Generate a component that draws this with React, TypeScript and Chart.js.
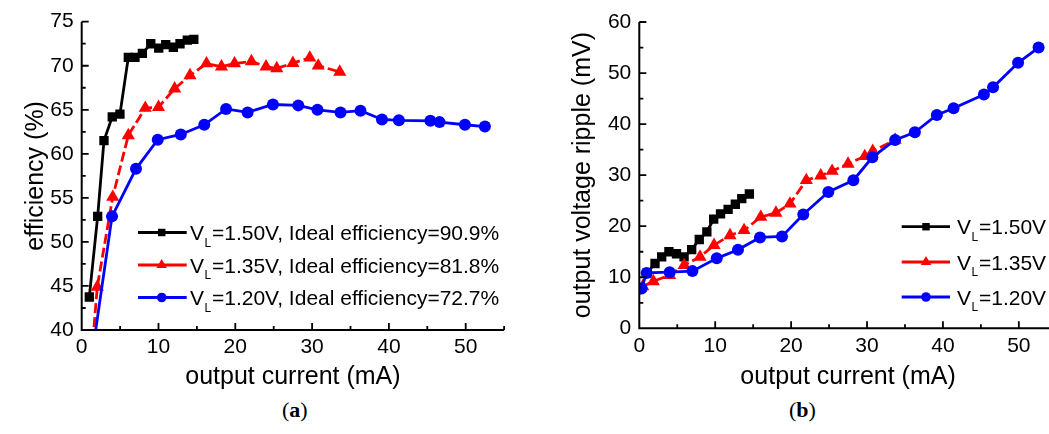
import React, { useEffect, useRef } from "react";
import { Chart, registerables } from "chart.js";

Chart.register(...registerables);

// ---------- (a) efficiency vs output current ----------
const effX150 = [0.99, 2.08, 2.9, 3.98, 4.98, 6.07, 6.94, 7.9, 8.99, 10.03, 10.94, 11.93, 12.8, 13.75, 14.6];
const effY150 = [43.75, 52.9, 61.5, 64.2, 64.5, 70.95, 70.95, 71.4, 72.5, 72.0, 72.4, 72.1, 72.5, 72.9, 73.0];
const effX135 = [1.0, 2.03, 4.04, 6.07, 8.28, 10.0, 12.1, 14.1, 16.25, 18.2, 19.9, 22.1, 24.0, 25.4, 27.5, 29.7, 30.8, 33.6];
const effY135 = [34, 44.9, 55.1, 62.1, 65.2, 65.3, 67.4, 68.9, 70.25, 69.9, 70.25, 70.5, 69.9, 69.7, 70.3, 70.9, 70.0, 69.3];
const effX120 = [1.0, 3.95, 7.07, 9.9, 12.9, 15.96, 18.8, 21.6, 24.9, 28.2, 30.7, 33.7, 36.3, 39.1, 41.3, 45.4, 46.6, 49.9, 52.5];
const effY120 = [35, 52.9, 58.3, 61.6, 62.2, 63.3, 65.1, 64.7, 65.6, 65.5, 65.0, 64.7, 64.9, 63.9, 63.8, 63.75, 63.6, 63.3, 63.1];

// ---------- (b) output voltage ripple vs output current ----------
const ripX150 = [1.0, 2.07, 2.95, 3.9, 4.9, 5.9, 6.9, 7.9, 8.9, 9.8, 10.7, 11.7, 12.65, 13.5, 14.5];
const ripY150 = [10.8, 12.7, 14.0, 15.0, 14.6, 14.0, 15.4, 17.4, 18.9, 21.4, 22.4, 23.3, 24.3, 25.4, 26.3];
const ripX135 = [0.45, 1.85, 4.0, 5.9, 8.0, 9.85, 11.95, 13.8, 16.0, 18.0, 19.85, 22.0, 23.9, 25.4, 27.5, 29.7, 30.75, 33.7];
const ripY135 = [8.2, 9.2, 10.4, 12.35, 14.0, 16.3, 18.2, 19.2, 21.8, 22.6, 24.4, 29.0, 29.9, 30.8, 32.2, 33.7, 34.7, 36.9];
const ripX120 = [0.3, 0.97, 4.0, 7.0, 10.2, 13.0, 15.9, 18.8, 21.6, 24.9, 28.2, 30.7, 33.7, 36.3, 39.2, 41.4, 45.4, 46.6, 49.9, 52.6];
const ripY120 = [7.8, 10.85, 11.0, 11.2, 13.7, 15.4, 17.8, 18.0, 22.3, 26.7, 29.0, 33.5, 36.9, 38.4, 41.8, 43.1, 45.8, 47.2, 52.0, 55.0];

// ---------- ticks and labels ----------
const xTicks = [0, 10, 20, 30, 40, 50];
const effTicks = [40, 45, 50, 55, 60, 65, 70, 75];
const ripTicks = [0, 10, 20, 30, 40, 50, 60];
const legendA = [
  ["1.50V", ", Ideal efficiency=90.9%"],
  ["1.35V", ", Ideal efficiency=81.8%"],
  ["1.20V", ", Ideal efficiency=72.7%"],
];
const legendB = [["1.50V", ""], ["1.35V", ""], ["1.20V", ""]];
const xTitle = "output current (mA)";
const effTitle = "efficiency (%)";
const ripTitle = "output voltage ripple (mV)";

const FONT = "'Liberation Sans', Arial, sans-serif";
const SERIES = [
  { color: "#000000", style: "rect", radius: 6.6, dash: [] as number[] },
  { color: "#ff0000", style: "triangle", radius: 7.6, dash: [10, 4] },
  { color: "#0000ff", style: "circle", radius: 6, dash: [] as number[] },
];

const axesPlugin = {
  id: "originAxes",
  afterDraw(chart: any, _args: any, opts: any) {
    const { ctx, chartArea: a, scales } = chart;
    const x = scales.x;
    const y = scales.y;
    ctx.save();
    ctx.strokeStyle = "#000";
    ctx.lineWidth = 2;
    ctx.beginPath();
    ctx.moveTo(a.left, a.top);
    ctx.lineTo(a.left, a.bottom);
    ctx.lineTo(a.right, a.bottom);
    ctx.stroke();
    ctx.lineWidth = 1.8;
    ctx.beginPath();
    const major = 7;
    const minor = 4;
    for (let v = x.min; v <= x.max + 1e-9; v += opts.xMinor) {
      const px = x.getPixelForValue(v);
      const isMajor = Math.abs(v / opts.xMajor - Math.round(v / opts.xMajor)) < 1e-6;
      if (v === x.min) continue;
      ctx.moveTo(px, a.bottom);
      ctx.lineTo(px, a.bottom - (isMajor ? major : minor));
    }
    for (let v = y.min; v <= y.max + 1e-9; v += opts.yMinor) {
      const py = y.getPixelForValue(v);
      const isMajor = Math.abs((v - y.min) / opts.yMajor - Math.round((v - y.min) / opts.yMajor)) < 1e-6;
      if (v === y.min) continue;
      ctx.moveTo(a.left, py);
      ctx.lineTo(a.left + (isMajor ? major : minor), py);
    }
    ctx.stroke();
    ctx.restore();
  },
};

function drawMarker(ctx: CanvasRenderingContext2D, style: string, cx: number, cy: number, r: number, color: string) {
  ctx.fillStyle = color;
  ctx.beginPath();
  if (style === "rect") {
    const s = Math.SQRT1_2 * r;
    ctx.rect(cx - s, cy - s, 2 * s, 2 * s);
  } else if (style === "triangle") {
    ctx.moveTo(cx, cy - r);
    ctx.lineTo(cx + 0.866 * r, cy + 0.5 * r);
    ctx.lineTo(cx - 0.866 * r, cy + 0.5 * r);
    ctx.closePath();
  } else {
    ctx.arc(cx, cy, r, 0, Math.PI * 2);
  }
  ctx.fill();
}

const legendPlugin = {
  id: "originLegend",
  afterDraw(chart: any, _args: any, opts: any) {
    const ctx = chart.ctx as CanvasRenderingContext2D;
    ctx.save();
    opts.items.forEach((item: string[], i: number) => {
      const s = SERIES[i];
      const ry = opts.rows[i];
      ctx.strokeStyle = s.color;
      ctx.lineWidth = 2.8;
      ctx.beginPath();
      ctx.moveTo(opts.x0, ry);
      ctx.lineTo(opts.x1, ry);
      ctx.stroke();
      drawMarker(ctx, s.style, opts.mx, ry, s.radius * 0.8, s.color);
      ctx.fillStyle = "#000";
      ctx.textBaseline = "alphabetic";
      ctx.textAlign = "left";
      const base = ry + 7.5;
      ctx.font = `21px ${FONT}`;
      ctx.fillText("V", opts.tx, base);
      let cx = opts.tx + ctx.measureText("V").width + 0.5;
      ctx.font = `12px ${FONT}`;
      ctx.fillText("L", cx, base + 6.5);
      cx += ctx.measureText("L").width + 0.8;
      ctx.font = `21px ${FONT}`;
      ctx.fillText("=" + item[0] + item[1], cx, base);
    });
    ctx.restore();
  },
};

function makeDatasets(xs: number[][], ys: number[][]) {
  const labels = ["VL=1.50V", "VL=1.35V", "VL=1.20V"];
  return xs.map((xa, i) => ({
    label: labels[i],
    data: xa.map((xv, j) => ({ x: xv, y: ys[i][j] })),
    showLine: true,
    borderColor: SERIES[i].color,
    backgroundColor: SERIES[i].color,
    borderWidth: 2.8,
    borderDash: SERIES[i].dash,
    pointStyle: SERIES[i].style,
    pointRadius: SERIES[i].radius,
    pointBorderWidth: 0,
    pointBackgroundColor: SERIES[i].color,
    tension: 0,
    order: 2 - i,
  }));
}

function buildConfig(p: any) {
  return {
    type: "scatter",
    data: { datasets: makeDatasets(p.xs, p.ys) },
    plugins: [axesPlugin, legendPlugin],
    options: {
      animation: false,
      responsive: false,
      devicePixelRatio: 1,
      layout: { padding: { left: 0, top: p.padTop, right: p.padRight, bottom: 0 } },
      plugins: {
        legend: { display: false },
        tooltip: { enabled: false },
        originAxes: { xMajor: 10, xMinor: 5, yMajor: p.yMajor, yMinor: p.yMajor / 2 },
        originLegend: p.legend,
      },
      scales: {
        x: {
          type: "linear",
          min: 0,
          max: 55,
          grid: { display: false, drawTicks: false },
          border: { display: false },
          ticks: { color: "#000", font: { family: FONT, size: 21 }, padding: 5, autoSkip: false, maxRotation: 0 },
          afterBuildTicks: (s: any) => {
            s.ticks = xTicks.map((v) => ({ value: v }));
          },
          afterFit: (s: any) => {
            s.height = p.xHeight;
          },
          title: { display: true, text: xTitle, color: "#000", font: { family: FONT, size: 25 }, padding: { top: 0, bottom: 0 } },
        },
        y: {
          type: "linear",
          min: p.yTicks[0],
          max: p.yTicks[p.yTicks.length - 1],
          grid: { display: false, drawTicks: false },
          border: { display: false },
          ticks: { color: "#000", font: { family: FONT, size: 21 }, padding: 8, autoSkip: false },
          afterBuildTicks: (s: any) => {
            s.ticks = p.yTicks.map((v: number) => ({ value: v }));
          },
          afterFit: (s: any) => {
            s.width = p.yWidth;
          },
          title: { display: true, text: p.yTitle, color: "#000", font: { family: FONT, size: 25 }, padding: { top: p.yTitlePad, bottom: 0 } },
        },
      },
    },
  };
}

function ChartBox(props: { left: number; width: number; height: number; cfg: any }) {
  const ref = useRef<HTMLCanvasElement | null>(null);
  useEffect(() => {
    if (!ref.current) return;
    const chart = new Chart(ref.current, props.cfg);
    return () => chart.destroy();
  }, []);
  return (
    <canvas
      ref={ref}
      width={props.width}
      height={props.height}
      style={{ position: "absolute", left: props.left, top: 0, width: props.width, height: props.height }}
    />
  );
}

const cfgA = buildConfig({
  xs: [effX150, effX135, effX120],
  ys: [effY150, effY135, effY120],
  yTicks: effTicks,
  yMajor: 5,
  yTitle: effTitle,
  padTop: 21.7,
  padRight: 15.9,
  xHeight: 62,
  yWidth: 81.7,
  yTitlePad: 21,
  legend: { items: legendA, x0: 138, x1: 186.7, mx: 161.7, tx: 190, rows: [232.5, 265, 297.5] },
});

const cfgB = buildConfig({
  xs: [ripX150, ripX135, ripX120],
  ys: [ripY150, ripY135, ripY120],
  yTicks: ripTicks,
  yMajor: 10,
  yTitle: ripTitle,
  padTop: 22,
  padRight: 8.2,
  xHeight: 63.7,
  yWidth: 114.3,
  yTitlePad: 43.6,
  legend: { items: legendB, x0: 376.7, x1: 425, mx: 401, tx: 432, rows: [226.7, 262, 297] },
});

export default function App() {
  return (
    <div style={{ position: "absolute", left: 0, top: 0, width: 1049, height: 434, overflow: "hidden", background: "#fff" }}>
      <ChartBox left={0} width={520} height={392} cfg={cfgA} />
      <ChartBox left={525} width={540} height={392} cfg={cfgB} />
      <div style={{ position: "absolute", left: 282, top: 398, font: "22px 'Liberation Serif', 'Times New Roman', serif", lineHeight: "24px" }}>
        (<b>a</b>)
      </div>
      <div style={{ position: "absolute", left: 789, top: 398, font: "22px 'Liberation Serif', 'Times New Roman', serif", lineHeight: "24px" }}>
        (<b>b</b>)
      </div>
    </div>
  );
}
